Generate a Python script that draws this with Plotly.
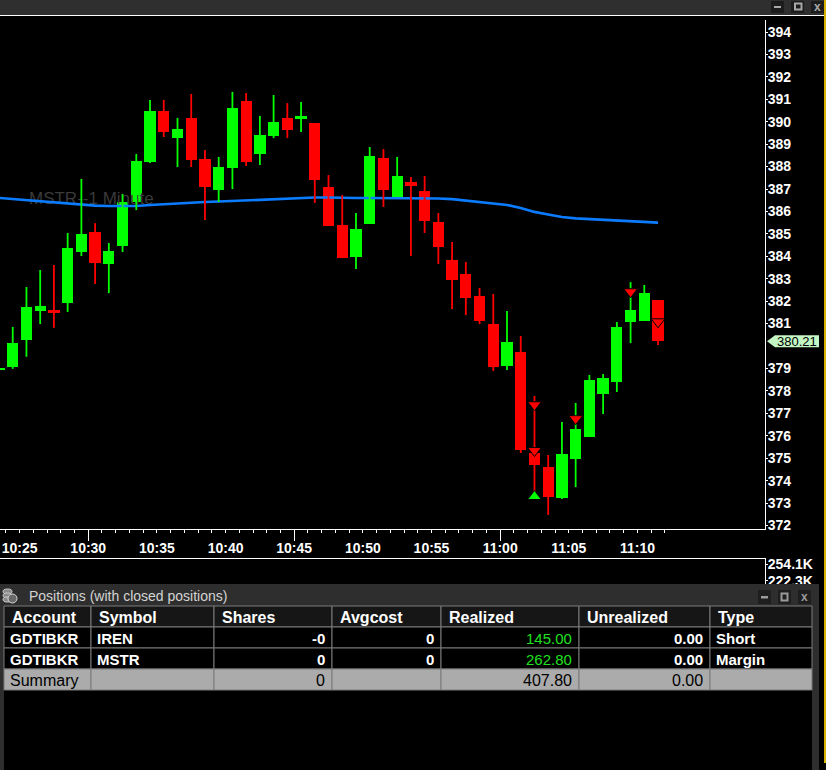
import plotly.graph_objects as go
import pandas as pd

W, H = 833, 770
DAY = "2024-05-01"
FONT = "Liberation Sans, Arial, sans-serif"

# ---------------- data ----------------
first_bar_minute = "10:23"
opens = [378.97, 379.06, 380.27, 381.56, 381.61, 381.92, 384.19, 385.08, 383.66, 384.46,
         386.42, 388.20, 390.48, 389.27, 390.17, 388.34, 386.96, 387.94, 390.92, 388.56,
         389.36, 390.17, 390.12, 389.94, 387.09, 385.40, 383.97, 385.44, 388.38, 386.64,
         387.31, 386.91, 385.53, 383.84, 383.21, 382.23, 380.98, 379.11, 379.73, 375.23,
         374.61, 373.22, 374.96, 375.94, 377.86, 378.40, 381.07, 381.12, 382.05]
highs = [379.03, 380.85, 382.63, 383.39, 383.61, 385.04, 387.45, 385.48, 384.59, 386.78,
         388.56, 390.97, 390.97, 390.17, 391.24, 388.74, 388.43, 391.33, 391.28, 390.26,
         391.19, 390.83, 390.88, 389.94, 387.62, 386.73, 385.93, 388.87, 388.78, 388.43,
         387.54, 387.58, 385.93, 384.64, 383.75, 382.59, 382.32, 381.56, 380.45, 377.77,
         375.14, 376.61, 377.46, 378.71, 378.75, 381.07, 382.85, 382.72, 382.05]
lows = [378.95, 378.98, 379.52, 380.98, 380.82, 381.52, 384.01, 382.77, 382.36, 384.19,
        386.06, 388.16, 389.32, 387.98, 387.98, 385.62, 386.42, 387.00, 388.03, 388.07,
        389.27, 389.27, 389.54, 386.38, 385.35, 383.92, 383.43, 385.44, 386.20, 386.64,
        384.01, 385.04, 383.66, 381.65, 381.38, 380.98, 378.89, 378.93, 375.23, 373.40,
        372.47, 373.18, 373.71, 375.94, 376.97, 377.95, 380.13, 381.12, 380.05]
closes = [379.02, 380.13, 381.74, 381.78, 381.47, 384.37, 384.99, 383.70, 384.24, 386.42,
          388.25, 390.48, 389.54, 389.68, 388.29, 387.09, 387.98, 390.61, 388.20, 389.41,
          389.99, 389.63, 390.26, 387.40, 385.35, 383.92, 385.22, 388.47, 386.96, 387.58,
          387.13, 385.57, 384.41, 382.94, 382.14, 381.12, 379.06, 380.18, 375.36, 374.70,
          373.27, 375.19, 376.30, 378.49, 378.57, 380.85, 381.61, 382.36, 380.21]
ema_values = [386.60, 386.55, 386.51, 386.44, 386.38, 386.33, 386.29, 386.26, 386.24, 386.24,
              386.24, 386.29, 386.33, 386.35, 386.40, 386.42, 386.44, 386.47, 386.49, 386.51,
              386.53, 386.58, 386.60, 386.62, 386.62, 386.60, 386.60, 386.60, 386.60, 386.60,
              386.60, 386.60, 386.58, 386.55, 386.49, 386.42, 386.35, 386.29, 386.15, 385.98,
              385.86, 385.75, 385.69, 385.66, 385.62, 385.59, 385.55, 385.53, 385.50]

x_tick_labels = ["10:25", "10:30", "10:35", "10:40", "10:45",
                 "10:50", "10:55", "11:00", "11:05", "11:10"]
long_tick_labels = ["10:30", "10:45", "11:00"]
minute_tick_first, minute_tick_count = "10:24", 49
# price labels shown on the right axis (380 is hidden under the last-price tag)
y_tick_values = [372, 373, 374, 375, 376, 377, 378, 379, 381, 382, 383,
                 384, 385, 386, 387, 388, 389, 390, 391, 392, 393, 394]

sell_signal_times = ["11:02", "11:02", "11:05", "11:09", "11:11"]
sell_signal_prices = [377.38, 375.34, 376.76, 382.42, 381.08]
buy_signal_times = ["11:02"]
buy_signal_prices = [373.29]

volume_tick_values = [254.1, 222.3]
volume_tick_labels = ["254.1K", "222.3K"]

chart_watermark = "MSTR--1 Minute"
positions_title = "Positions (with closed positions)"
table_columns = ["Account", "Symbol", "Shares", "Avgcost", "Realized", "Unrealized", "Type"]
col_align = ["left", "left", "right", "right", "right", "right", "left"]
accounts = ["GDTIBKR", "GDTIBKR"]
symbols = ["IREN", "MSTR"]
shares = ["-0", "0"]
avgcosts = ["0", "0"]
realized = [145.00, 262.80]
unrealized = [0.00, 0.00]
types = ["Short", "Margin"]
summary_label = "Summary"
summary_shares = "0"
summary_realized = 407.80
summary_unrealized = 0.00

# ---------------- helpers ----------------
def ts(hhmm, sec="30"):
    return pd.Timestamp(f"{DAY} {hhmm}:{sec}")

def rect(x0, y0, x1, y1, fill, line=None, lw=0, layer="above"):
    return dict(type="rect", xref="paper", yref="paper",
                x0=x0 / W, x1=x1 / W, y0=1 - y1 / H, y1=1 - y0 / H,
                fillcolor=fill, line=dict(color=line or fill, width=lw), layer=layer)

def label(x, y, text, size, color, bold=False, anchor="left", family=FONT):
    return dict(x=x / W, y=1 - y / H, xref="paper", yref="paper",
                text=f"<b>{text}</b>" if bold else text, showarrow=False,
                xanchor=anchor, yanchor="middle", borderpad=0,
                font=dict(size=size, color=color, family=family))

bar_times = pd.date_range(ts(first_bar_minute), periods=len(opens), freq="min")
GREEN, RED = "#00ff00", "#ff0000"

up_x, up_y, dn_x, dn_y = [], [], [], []
body_base, body_len, body_col = [], [], []
for t, o, h, l, c in zip(bar_times, opens, highs, lows, closes):
    if c >= o:
        up_x += [t, t, None]; up_y += [l, h, None]; body_col.append(GREEN)
    else:
        dn_x += [t, t, None]; dn_y += [l, h, None]; body_col.append(RED)
    body_base.append(min(o, c))
    body_len.append(max(abs(c - o), 0.04))

fig = go.Figure()

# watermark (behind everything)
fig.add_trace(go.Scatter(x=[ts("10:25", "41")], y=[386.51], mode="text", text=[chart_watermark],
                         textposition="middle right", hoverinfo="skip", showlegend=False,
                         textfont=dict(size=17, color="#3a3a3a", family=FONT)))
# moving average
fig.add_trace(go.Scatter(x=bar_times, y=ema_values, mode="lines", hoverinfo="skip",
                         line=dict(color="#0c7cff", width=2.6), showlegend=False))
# wicks
fig.add_trace(go.Scatter(x=up_x, y=up_y, mode="lines", line=dict(color=GREEN, width=1.8),
                         hoverinfo="skip", showlegend=False))
fig.add_trace(go.Scatter(x=dn_x, y=dn_y, mode="lines", line=dict(color=RED, width=1.8),
                         hoverinfo="skip", showlegend=False))
# bodies
fig.add_trace(go.Bar(x=bar_times, y=body_len, base=body_base, width=0.82 * 60000,
                     marker=dict(color=body_col, line=dict(width=0)), showlegend=False,
                     hoverinfo="skip"))
# trade signals
fig.add_trace(go.Scatter(x=[ts(t) for t in sell_signal_times], y=sell_signal_prices, mode="markers",
                         marker=dict(symbol="triangle-down", size=12, color=RED,
                                     line=dict(color="#000000", width=1)),
                         hoverinfo="skip", showlegend=False))
fig.add_trace(go.Scatter(x=[ts(t) for t in buy_signal_times], y=buy_signal_prices, mode="markers",
                         marker=dict(symbol="triangle-up", size=12, color=GREEN,
                                     line=dict(color="#000000", width=1)),
                         hoverinfo="skip", showlegend=False))
# helper traces so overlay axes get drawn
fig.add_trace(go.Scatter(x=[bar_times[0]], y=[None], xaxis="x2", yaxis="y", showlegend=False,
                         hoverinfo="skip"))
fig.add_trace(go.Scatter(x=[0.5], y=[None], xaxis="x3", yaxis="y3", showlegend=False,
                         hoverinfo="skip"))

x_range = [f"{DAY} 10:23:34.35", f"{DAY} 11:19:17.4"]
x_dom = [0, 765 / W]
axis_font = dict(size=14, color="#ffffff", family=FONT, weight="bold")

minute_ticks = pd.date_range(ts(minute_tick_first, "00"), periods=minute_tick_count, freq="min")

fig.update_layout(
    width=W, height=H, margin=dict(l=0, r=0, t=0, b=0, pad=0, autoexpand=False),
    paper_bgcolor="#000000", plot_bgcolor="#000000", showlegend=False, hovermode=False,
    bargap=0,
    xaxis=dict(domain=x_dom, range=x_range, type="date", anchor="y",
               showgrid=False, zeroline=False, showline=True, linecolor="#ffffff", linewidth=1,
               tickmode="array", tickvals=[ts(t, "00") for t in x_tick_labels], ticktext=x_tick_labels,
               ticks="outside", ticklen=3, tickcolor="#ffffff", tickwidth=1,
               tickfont=axis_font, ticklabelstandoff=3,
               minor=dict(tickmode="array", tickvals=list(minute_ticks), ticks="outside",
                          ticklen=3, tickcolor="#ffffff", tickwidth=1, showgrid=False)),
    xaxis2=dict(domain=x_dom, range=x_range, type="date", overlaying="x", anchor="y", side="bottom",
                showgrid=False, zeroline=False, showline=False, showticklabels=False,
                tickmode="array", tickvals=[ts(t, "00") for t in long_tick_labels],
                ticks="outside", ticklen=11, tickcolor="#ffffff", tickwidth=1),
    yaxis=dict(domain=[1 - 529 / H, 1 - 20 / H], range=[371.842, 394.535], anchor="x", side="right",
               showgrid=False, zeroline=False, showline=True, linecolor="#ffffff", linewidth=1,
               tickmode="array", tickvals=y_tick_values, ticks="outside", ticklen=2,
               tickcolor="#ffffff", tickfont=axis_font, ticklabelstandoff=-3),
    xaxis3=dict(domain=x_dom, range=[0, 1], anchor="y3", side="top", showgrid=False,
                zeroline=False, showline=True, linecolor="#ffffff", linewidth=1,
                showticklabels=False, ticks=""),
    yaxis3=dict(domain=[1 - 600 / H, 1 - 559 / H], range=[184.4, 264.9], anchor="x3", side="right",
                showgrid=False, zeroline=False, showline=True, linecolor="#ffffff", linewidth=1,
                tickmode="array", tickvals=volume_tick_values, ticktext=volume_tick_labels,
                ticks="outside", ticklen=2, tickcolor="#ffffff", tickfont=axis_font,
                ticklabelstandoff=-3),
)

shapes, annots = [], []

# chart window chrome
shapes.append(rect(0, 0, 824, 15, "#2f2f2f"))
shapes.append(rect(0, 15, 824, 16, "#ffffff"))
for bx in (771, 791, 811):
    shapes.append(rect(bx, 1, bx + 13, 13, "#1c1c1c"))
shapes.append(rect(774, 6, 781, 8, "#a8a8a8"))
shapes.append(rect(795, 3.5, 801.5, 9.5, "rgba(0,0,0,0)", "#a8a8a8", 2))
annots.append(label(817.5, 7.5, "x", 12, "#a8a8a8", bold=True, anchor="center"))
shapes.append(rect(824, 0, 826, 763, "#d6b200"))
shapes.append(rect(826, 0, 833, 770, "#ffffff"))

# last-price tag on the axis
last = closes[-1]
hh = 6 / 22.43
shapes.append(dict(type="path", xref="paper", yref="y", layer="above",
                   path=(f"M {767 / W},{last} L {775 / W},{last + hh} L {819 / W},{last + hh} "
                         f"L {819 / W},{last - hh} L {775 / W},{last - hh} Z"),
                   fillcolor="#c4f6c4", line=dict(color="#c4f6c4", width=0)))
annots.append(dict(x=797 / W, y=last, xref="paper", yref="y", text=f"{last:.2f}",
                   showarrow=False, xanchor="center", yanchor="middle", borderpad=0,
                   font=dict(size=13, color="#000000", family=FONT)))

# positions window
shapes.append(rect(0, 584, 819, 770, "#2e2e2e"))
shapes.append(rect(4, 606, 812, 770, "#000000"))
for cy in (589, 593, 597):
    shapes.append(dict(type="circle", xref="paper", yref="paper", layer="above",
                       x0=3 / W, x1=12 / W, y0=1 - (cy + 5) / H, y1=1 - cy / H,
                       fillcolor="#8a8a8a", line=dict(color="#d0d0d0", width=1)))
shapes.append(dict(type="circle", xref="paper", yref="paper", layer="above",
                   x0=8 / W, x1=17 / W, y0=1 - 603 / H, y1=1 - 594 / H,
                   fillcolor="#6a6a6a", line=dict(color="#d8d8d8", width=1)))
annots.append(label(28, 596, positions_title, 14, "#d4d4d4"))
for bx in (758, 778, 798):
    shapes.append(rect(bx, 590, bx + 13, 604, "#1e1e1e"))
shapes.append(rect(761, 596, 768, 598.5, "#9a9a9a"))
shapes.append(rect(781.5, 593.5, 787.5, 600.5, "rgba(0,0,0,0)", "#9a9a9a", 2))
annots.append(label(804.5, 597, "x", 12, "#9a9a9a", bold=True, anchor="center"))

col_edges = [4, 91, 214, 332, 441, 579, 710, 812]
row_edges = [606, 627, 648, 669, 690]
row_fills = ["#161616", "#000000", "#000000", "#ababab"]
for r in range(4):
    for c in range(7):
        shapes.append(rect(col_edges[c], row_edges[r], col_edges[c + 1], row_edges[r + 1],
                           row_fills[r], "#7a7a7a", 1))

def cell_text(r, c, text, color, bold, size=15):
    yc = (row_edges[r] + row_edges[r + 1]) / 2 + 0.5
    if col_align[c] == "left":
        annots.append(label(col_edges[c] + 5, yc, text, size, color, bold, "left"))
    else:
        annots.append(label(col_edges[c + 1] - 6, yc, text, size, color, bold, "right"))

for c, name in enumerate(table_columns):
    yc = (row_edges[0] + row_edges[1]) / 2 + 0.5
    annots.append(label(col_edges[c] + 7, yc, name, 16, "#ffffff", True, "left"))

for i in range(len(accounts)):
    r = i + 1
    cell_text(r, 0, accounts[i], "#ffffff", True)
    cell_text(r, 1, symbols[i], "#ffffff", True)
    cell_text(r, 2, shares[i], "#ffffff", True)
    cell_text(r, 3, avgcosts[i], "#ffffff", True)
    cell_text(r, 4, f"{realized[i]:.2f}", "#1fe01f" if realized[i] > 0 else "#ffffff", False)
    cell_text(r, 5, f"{unrealized[i]:.2f}", "#ffffff", True)
    cell_text(r, 6, types[i], "#ffffff", True)

cell_text(3, 0, summary_label, "#000000", False, 16)
cell_text(3, 2, summary_shares, "#000000", False, 16)
cell_text(3, 4, f"{summary_realized:.2f}", "#000000", False, 16)
cell_text(3, 5, f"{summary_unrealized:.2f}", "#000000", False, 16)

fig.update_layout(shapes=shapes, annotations=annots)
fig.write_html("out.html")
